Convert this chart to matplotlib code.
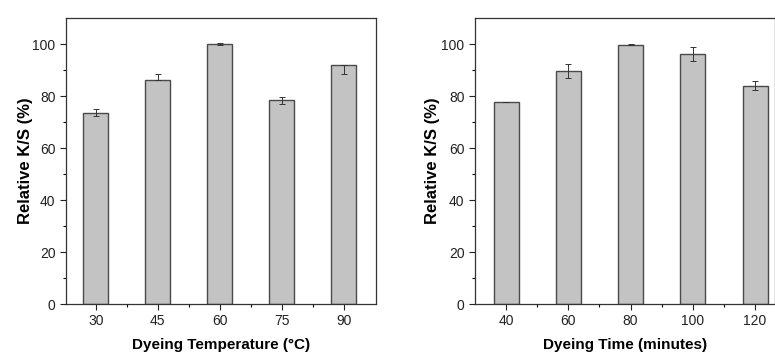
import numpy as np
import matplotlib.pyplot as plt

plt.rcParams['font.family'] = ['Liberation Sans', 'DejaVu Sans']

temp_labels = ['30', '45', '60', '75', '90']
temp_values = [73.6, 86.0, 100.0, 78.4, 91.8]
temp_err_lo = [1.3, 0.0, 0.2, 1.5, 3.3]
temp_err_hi = [1.5, 2.6, 0.2, 1.3, 0.0]

time_labels = ['40', '60', '80', '100', '120']
time_values = [77.8, 89.6, 99.8, 96.0, 84.0]
time_err = [0.0, 2.6, 0.2, 2.7, 1.8]

fig = plt.figure(figsize=(7.75, 3.54), dpi=100)

W, H = 775.0, 354.0
ax1 = fig.add_axes([66 / W, 1 - 304 / H, 310 / W, 286 / H])
ax2 = fig.add_axes([475 / W, 1 - 304 / H, 300 / W, 286 / H])


def draw(ax, labels, values, yerr, xlabel, xlim, ylab_x):
    x = np.arange(len(labels))
    ax.bar(x, values, width=0.4, color='#c3c3c3', edgecolor='#4a4a4a',
           linewidth=1.0, zorder=2)
    ax.errorbar(x, values, yerr=yerr, fmt='none', ecolor='#333333',
                elinewidth=0.7, capsize=2.5, capthick=0.7, zorder=3)
    ax.set_xlim(*xlim)
    ax.set_ylim(0, 110)
    ax.set_xticks(x)
    ax.set_xticklabels(labels)
    ax.set_xticks(x[:-1] + 0.5, minor=True)
    ax.set_yticks([0, 20, 40, 60, 80, 100])
    ax.set_yticks(np.arange(10, 110, 20), minor=True)
    ax.tick_params(axis='both', which='major', direction='out', length=4,
                   width=0.8, labelsize=10, colors='#222222')
    ax.tick_params(axis='both', which='minor', direction='out', length=2.5,
                   width=0.8)
    for s in ax.spines.values():
        s.set_linewidth(0.9)
        s.set_color('#333333')
    ax.set_ylabel('Relative K/S (%)', fontsize=12, fontweight='bold')
    ax.yaxis.set_label_coords(ylab_x, 0.5)
    ax.set_xlabel(xlabel, fontsize=11, fontweight='bold', labelpad=7)


draw(ax1, temp_labels, temp_values, [temp_err_lo, temp_err_hi],
     'Dyeing Temperature (°C)', (-0.48, 4.52), -0.105)
draw(ax2, time_labels, time_values, time_err,
     'Dyeing Time (minutes)', (-0.5, 4.32), -0.115)

fig.savefig('out.png', dpi=100)
